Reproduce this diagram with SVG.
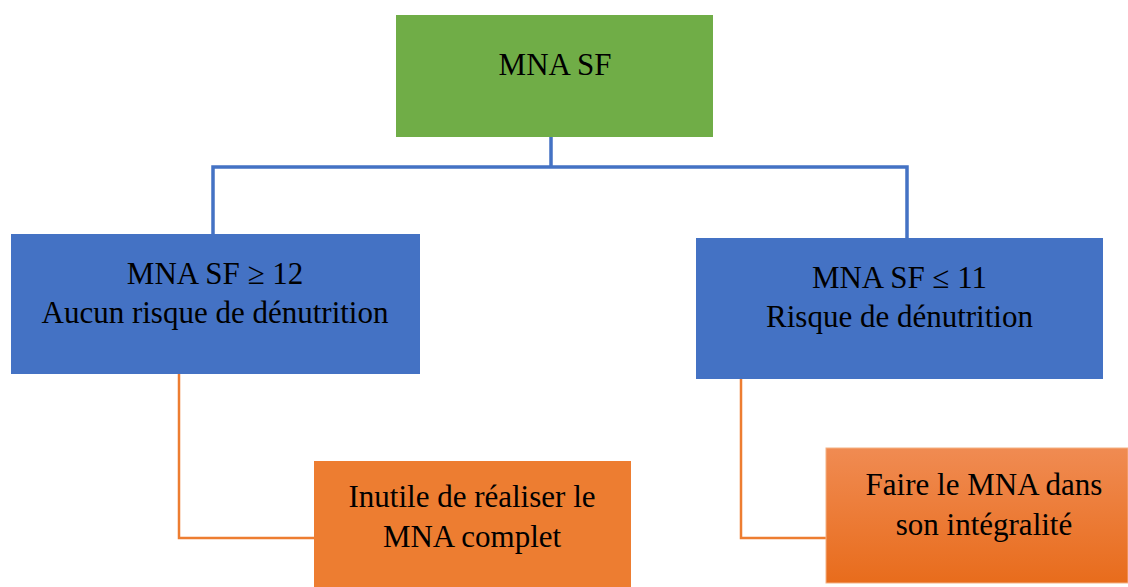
<svg xmlns="http://www.w3.org/2000/svg" width="1128" height="587" viewBox="0 0 1128 587">
<defs>
<linearGradient id="og" x1="0" y1="0" x2="0" y2="1">
<stop offset="0" stop-color="#F08B52"/>
<stop offset="1" stop-color="#E86C1C"/>
</linearGradient>
</defs>
<g id="connectors" fill="none">
<path stroke="#4472C4" stroke-width="3.5" d="M551 137 V167 M213 234 V167 H907 V238"/>
<path stroke="#ED7D31" stroke-width="2.5" d="M179 374 V538 H314 M741 379 V538 H826"/>
</g>
<g font-family="'Liberation Serif', 'Times New Roman', 'DejaVu Serif', serif" font-size="31" fill="#000" text-anchor="middle">
<g id="root">
<rect x="396" y="15" width="317" height="122" fill="#70AD47"/>
<text x="555" y="75">MNA SF</text>
</g>
<g id="left">
<rect x="11" y="234" width="409" height="140" fill="#4472C4"/>
<text x="215" y="284">MNA SF ≥ 12</text>
<text x="215" y="323">Aucun risque de dénutrition</text>
</g>
<g id="right">
<rect x="696" y="238" width="407" height="141" fill="#4472C4"/>
<text x="899.5" y="288">MNA SF ≤ 11</text>
<text x="899.5" y="327">Risque de dénutrition</text>
</g>
<g id="left-action">
<rect x="314" y="461" width="317" height="126" fill="#ED7D31"/>
<text x="472" y="507">Inutile de réaliser le</text>
<text x="472" y="547">MNA complet</text>
</g>
<g id="right-action">
<rect x="826" y="448" width="302" height="135" fill="url(#og)" stroke="#F4B183" stroke-width="1"/>
<text x="984" y="495">Faire le MNA dans</text>
<text x="984" y="535">son intégralité</text>
</g>
</g>
</svg>
